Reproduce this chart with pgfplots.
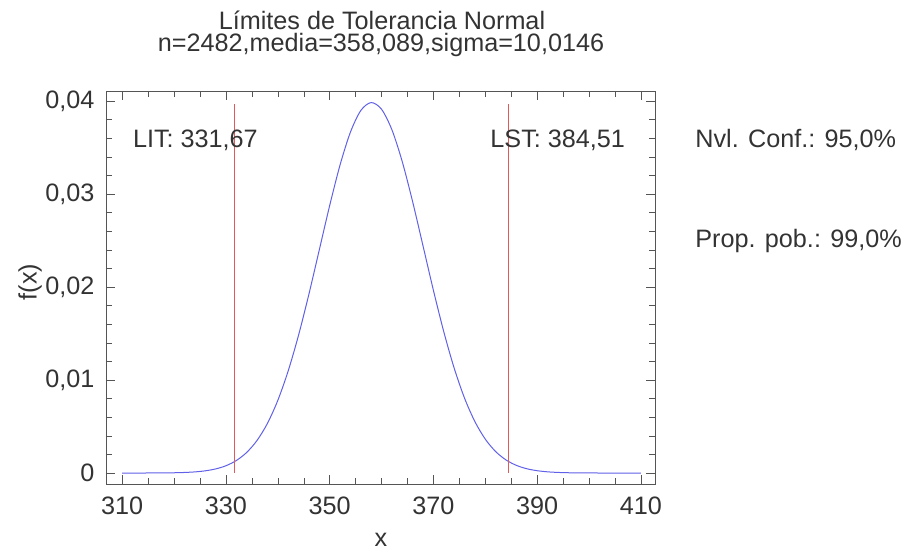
\documentclass[border=0pt]{standalone}
\usepackage{fontspec}
\setmainfont{Liberation Sans}
\usepackage{pgfplots}
\pgfplotsset{compat=1.18}
\definecolor{txt}{HTML}{333333}
\definecolor{frame}{HTML}{555555}
\definecolor{curve}{HTML}{6060E8}
\definecolor{lim}{HTML}{E05A5A}

\begin{document}
\begin{tikzpicture}[font=\fontsize{12.6}{15}\selectfont]
\path[use as bounding box] (-53pt,-34pt) rectangle (399pt,242pt);
\begin{axis}[
  at={(0,0)}, anchor=south west,
  scale only axis, width=274.5pt, height=196.5pt,
  xmin=306.9, xmax=412.7, ymin=-0.00118, ymax=0.04108,
  xtick={310,330,...,410}, minor x tick num=3,
  ytick={0,0.01,0.02,0.03,0.04}, minor y tick num=4,
  yticklabels={0,{0,01},{0,02},{0,03},{0,04}},
  /pgf/number format/assume math mode=true,
  scaled y ticks=false,
  axis line style={frame}, tick style={frame},
  major tick length=4.5pt, minor tick length=3pt,
  tick label style={text=txt},
  xticklabel style={yshift=-3pt},
  yticklabel style={xshift=-2.3pt},
  clip=false,
]
  % normal density, mean 358.089, sigma 10.0146
  \addplot[color=curve, line width=0.5pt, smooth] coordinates {
    (310,0.0000004)(312,0.0000010)(314,0.0000025)(316,0.0000058)(318,0.0000132)
    (320,0.0000288)(322,0.0000603)(324,0.0001213)(326,0.0002347)(328,0.000437)
    (330,0.000780)(332,0.001339)(334,0.002208)(336,0.003498)(338,0.005326)
    (340,0.007796)(342,0.010963)(344,0.014807)(346,0.019225)(348,0.023985)
    (350,0.028750)(352,0.033116)(354,0.036649)(356,0.038978)(358,0.039834)
    (360,0.039117)(362,0.036911)(364,0.033467)(366,0.029159)(368,0.024412)
    (370,0.019638)(372,0.015181)(374,0.011276)(376,0.008047)(378,0.005519)
    (380,0.003637)(382,0.002304)(384,0.001402)(386,0.000820)(388,0.000461)
    (390,0.0002485)(392,0.0001288)(394,0.0000642)(396,0.0000308)(398,0.0000142)
    (400,0.0000063)(402,0.0000027)(404,0.0000011)(406,0.0000004)(408,0.0000002)
    (410,0.0000001)
  };
  % tolerance limits
  \addplot[color=lim, line width=0.5pt] coordinates {(331.67,0)(331.67,0.0397)};
  \addplot[color=lim, line width=0.5pt] coordinates {(384.51,0)(384.51,0.0397)};
\end{axis}

\node[text=txt, anchor=west] at (10pt,172pt) {LIT: 331,67};
\node[text=txt, anchor=east] at (263pt,172pt) {LST: 384,51};
\node[text=txt, anchor=west, inner sep=0pt] at (294.5pt,172pt) {Nvl. Conf.: 95,0\%};
\node[text=txt, anchor=west, inner sep=0pt] at (294.5pt,121.5pt) {Prop. pob.: 99,0\%};

\node[text=txt, rotate=90] at (-38pt,101pt) {f(x)};
\node[text=txt] at (137.5pt,-28pt) {x};

\node[text=txt] at (138pt,232pt) {Límites de Tolerancia Normal};
\node[text=txt] at (137.5pt,219.5pt) {n=2482,media=358,089,sigma=10,0146};
\end{tikzpicture}
\end{document}
